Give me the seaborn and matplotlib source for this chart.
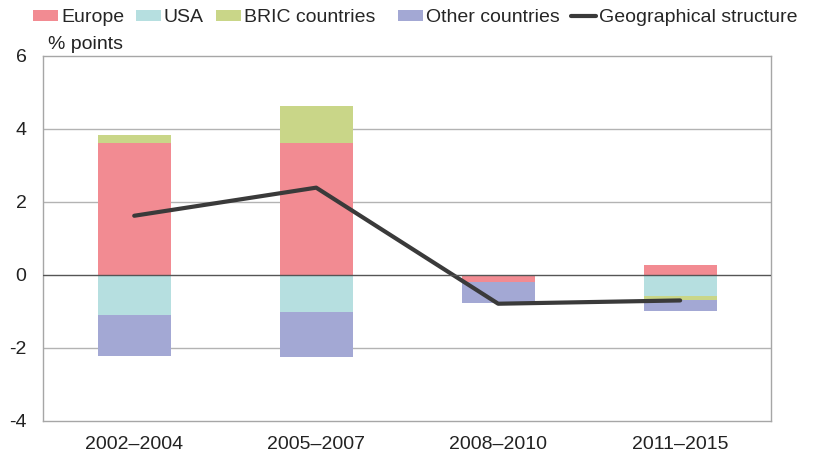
import numpy as np
import pandas as pd
import matplotlib
matplotlib.use("Agg")
import matplotlib.pyplot as plt
import seaborn as sns
from matplotlib.patches import Patch
from matplotlib.lines import Line2D

periods = ["2002–2004", "2005–2007", "2008–2010", "2011–2015"]
europe = [3.62, 3.60, -0.20, 0.27]
usa = [-1.10, -1.03, 0.0, -0.59]
bric = [0.22, 1.03, 0.0, -0.11]
other = [-1.12, -1.22, -0.57, -0.29]
structure = [1.62, 2.39, -0.79, -0.70]

series_names = ["Europe", "USA", "BRIC countries", "Other countries"]
colors = ["#f28b92", "#b6dfe0", "#c9d688", "#a3a8d4"]

sns.set_style("white")
plt.rcParams["font.family"] = ["Liberation Sans", "DejaVu Sans"]
plt.rcParams["axes.unicode_minus"] = False

fig = plt.figure(figsize=(8.16, 4.62), dpi=100)
ax = fig.add_axes([0.053, 0.089, 0.892, 0.790])

# stacked bars: positives and negatives stacked separately,
# cumulative totals drawn from the outermost segment inwards
vals = np.array([europe, usa, bric, other])
pos_cum = np.cumsum(np.clip(vals, 0, None), axis=0)
neg_cum = np.cumsum(np.clip(vals, None, 0), axis=0)

for i in reversed(range(len(series_names))):
    for cum in (pos_cum, neg_cum):
        df = pd.DataFrame({"period": periods, "value": cum[i]})
        sns.barplot(data=df, x="period", y="value", color=colors[i],
                    width=0.4, saturation=1, linewidth=0, ax=ax)

sns.pointplot(x=periods, y=structure, color="#3a3a3a", marker="",
              linewidth=3, errorbar=None, ax=ax)

ax.set_ylim(-4, 6)
ax.set_yticks(np.arange(-4, 7, 2))
ax.set_xlim(-0.5, 3.5)
for y in [-2, 2, 4]:
    ax.axhline(y, color="#b3b3b3", linewidth=1, zorder=0)
ax.axhline(0, color="#555555", linewidth=1, zorder=3)
for s in ax.spines.values():
    s.set_color("#a6a6a6")
    s.set_linewidth(1)
ax.tick_params(axis="both", length=0, labelsize=14, colors="#222222")
ax.tick_params(axis="y", pad=12)
ax.tick_params(axis="x", pad=11)
ax.set_xlabel("")
ax.set_ylabel("")
ax.text(0.059, 0.893, "% points", transform=fig.transFigure,
        fontsize=14, color="#222222", va="baseline")

handles = [Patch(facecolor=c, edgecolor="none") for c in colors]
handles.append(Line2D([0], [0], color="#3a3a3a", linewidth=3))
labels = ["Europe", "USA", "BRIC countries  ", "Other countries",
          "Geographical structure"]
fig.legend(handles, labels, loc="center", bbox_to_anchor=(0.509, 0.962),
           ncol=5, frameon=False, fontsize=14, handlelength=1.3,
           handleheight=0.5, handletextpad=0.15, columnspacing=0.6,
           borderpad=0, borderaxespad=0)

fig.savefig("out.png", dpi=100)
